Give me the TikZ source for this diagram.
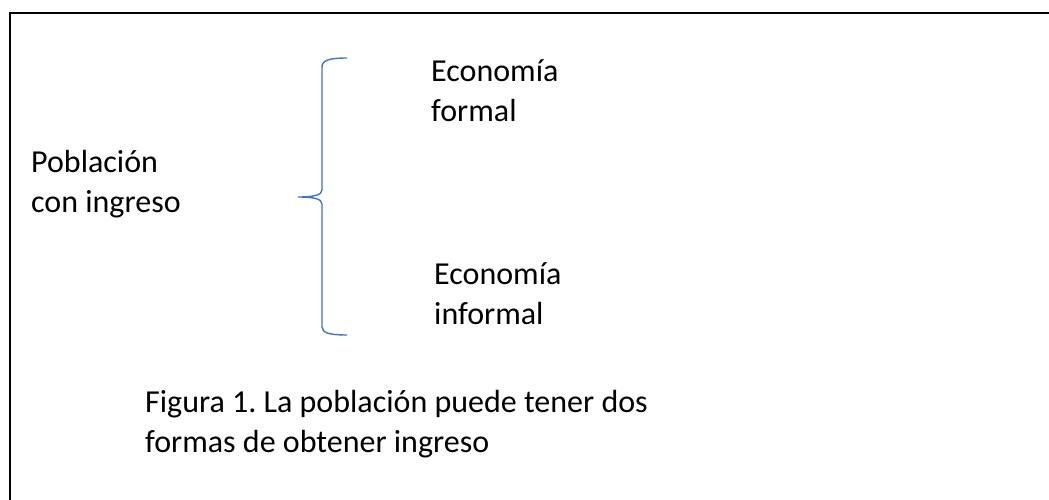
\documentclass[tikz,border=0pt]{standalone}
\usepackage{fontspec}
\setmainfont{Carlito}
\definecolor{braceblue}{HTML}{4472C4}
\tikzset{
  txt/.style={anchor=base west,inner sep=0pt,align=left,font=\fontsize{32}{39.5}\selectfont\frenchspacing},
  bracestyle/.style={draw=braceblue,line width=1.4pt}
}
\begin{document}
\begin{tikzpicture}[x=1pt,y=-1pt]
\useasboundingbox (0,0) rectangle (1049,499);
\clip (0,0) rectangle (1049,499);
\draw[line width=2.3pt] (10,13) rectangle (1070,520);
\node[txt] (pob) at (31,212) {Población\\con ingreso};
\node[txt] (formal) at (431,121) {Economía\\formal};
\node[txt] (informal) at (434,324) {Economía\\informal};
\node[txt] (fig) at (145,452) {Figura 1. La población puede tener dos\\formas de obtener ingreso};
\coordinate (btop) at (347,58);
\coordinate (btip) at (298,197);
\coordinate (bbot) at (347,335);
\draw[bracestyle] (btop) .. controls (330,58) and (322,60) .. (322,67) -- (322,190)
  .. controls (322,195) and (314,197) .. (btip)
  .. controls (314,197) and (322,199) .. (322,204) -- (322,327)
  .. controls (322,333) and (330,335) .. (bbot);
\end{tikzpicture}
\end{document}
